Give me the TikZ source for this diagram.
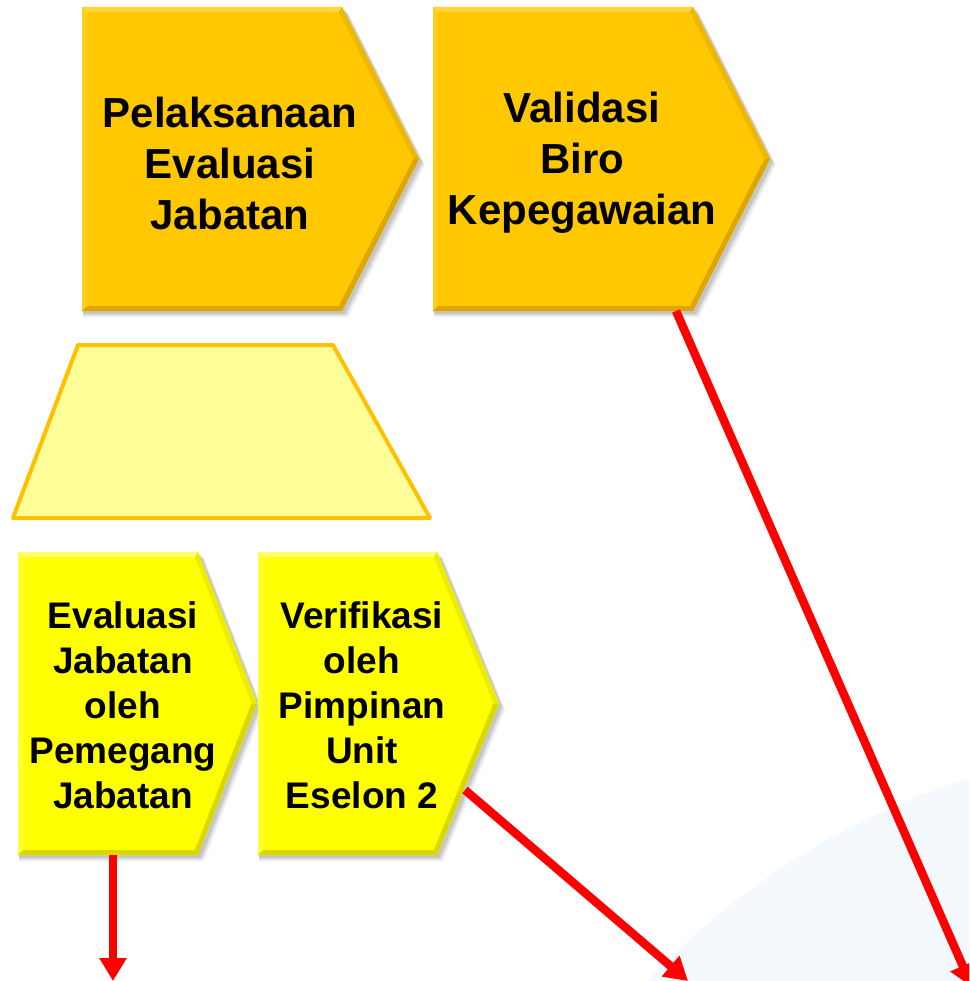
\documentclass[tikz,border=0pt]{standalone}
\usepackage{fontspec}
\setmainfont{Liberation Sans}
\usetikzlibrary{arrows.meta}
\definecolor{goldA}{HTML}{FFC800}
\definecolor{goldL}{HTML}{FFD640}
\definecolor{goldD}{HTML}{DDA600}
\definecolor{yelA}{HTML}{FFFF00}
\definecolor{yelL}{HTML}{FFFF70}
\definecolor{yelD}{HTML}{D8D800}
\definecolor{trapFill}{HTML}{FFFF99}
\definecolor{trapLine}{HTML}{FFC000}
\definecolor{paleBlue}{HTML}{F4F9FD}
\definecolor{arrowRed}{HTML}{FF0000}
\tikzset{
  bigtxt/.style={align=center,inner sep=0pt,font=\fontsize{42}{51}\selectfont\bfseries},
  smalltxt/.style={align=center,inner sep=0pt,font=\fontsize{37}{45}\selectfont\bfseries},
  redarrow/.style={draw=arrowRed,line width=8.5pt,-{Triangle[length=23pt,width=26pt]}},
}
% #1 x0, #2 y0, #3 xc, #4 xt, #5 y1, #6 main, #7 light, #8 dark
\newcommand{\chevshape}[8]{%
  \pgfmathsetmacro{\ym}{(#2+#5)/2}%
  \foreach \s/\o in {6/0.06,4.5/0.08,3/0.1} {%
    \fill[black,opacity=\o] (#1+1,#2+\s) -- (#3+\s,#2+\s) -- (#4+\s,\ym+\s) -- (#3+\s,#5+\s) -- (#1+1,#5+\s) -- cycle;}
  \fill[#6] (#1,#2) -- (#3,#2) -- (#4,\ym) -- (#3,#5) -- (#1,#5) -- cycle;
  \fill[#7] (#1,#2) -- (#3,#2) -- ({#3-0.62*5},{#2+5}) -- ({#1+5},{#2+5}) -- cycle;
  \fill[#7!50!#6] (#1,#2) -- ({#1+5},{#2+5}) -- ({#1+5},{#5-5}) -- (#1,#5) -- cycle;
  \fill[#8] (#1,#5) -- (#3,#5) -- ({#3-0.62*5},{#5-5}) -- ({#1+5},{#5-5}) -- cycle;
  \fill[#8!50!#6] (#3,#2) -- (#4,\ym) -- ({#4-1.12*5},\ym) -- ({#3-0.62*5},{#2+5}) -- cycle;
  \fill[#8] (#4,\ym) -- (#3,#5) -- ({#3-0.62*5},{#5-5}) -- ({#4-1.12*5},\ym) -- cycle;
}
\begin{document}
\begin{tikzpicture}[x=1pt,y=-1pt]
\useasboundingbox (0,0) rectangle (969,981);
\clip (0,0) rectangle (969,981);
% pale background arc
\fill[paleBlue] (1200,1500) circle (758);
% top chevrons
\chevshape{82}{7}{342}{419}{311}{goldA}{goldL}{goldD}
\chevshape{433}{7}{693}{770}{311}{goldA}{goldL}{goldD}
% trapezoid
\draw[fill=trapFill,draw=trapLine,line width=4pt,line join=round]
  (78,345) -- (333,345) -- (430,518) -- (13,518) -- cycle;
% bottom chevrons
\chevshape{18}{552}{198}{257}{855}{yelA}{yelL}{yelD}
\chevshape{258}{552}{437}{499}{855}{yelA}{yelL}{yelD}
% texts
\node[bigtxt] (t1) at (230,163) {Pelaksanaan\\Evaluasi\\Jabatan};
\node[bigtxt] (t2) at (582,163) {Validasi\\Biro\\Kepegawaian};
\node[smalltxt] (t3) at (123,705) {Evaluasi\\Jabatan\\oleh\\Pemegang\\Jabatan};
\node[smalltxt] (t4) at (362,705) {Verifikasi\\oleh\\Pimpinan\\Unit\\Eselon 2};
% connector endpoints
\coordinate (s1) at (113,855);
\coordinate (e1) at (113,981);
\coordinate (s2) at (465,790);
\coordinate (e2) at (688,981);
\coordinate (s3) at (676,311);
\coordinate (e3) at (972,987);
\draw[redarrow] (s1) -- (e1);
\draw[redarrow] (s2) -- (e2);
\draw[redarrow] (s3) -- (e3);
\end{tikzpicture}
\end{document}
